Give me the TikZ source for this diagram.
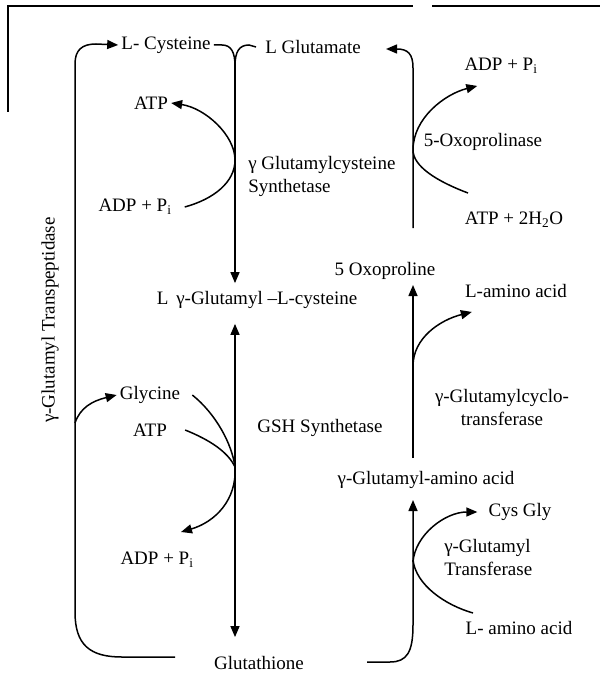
\documentclass[tikz,border=0pt]{standalone}
\usepackage{fontspec}
\setmainfont{Liberation Serif}
\usetikzlibrary{arrows.meta}
\begin{document}
\begin{tikzpicture}[x=1pt,y=-1pt, line width=1.5pt,
  lbl/.style={inner sep=2.5pt, font=\fontsize{19}{23}\selectfont},
  arr/.style={-{Triangle[length=11pt,width=9pt]}},
  darr/.style={{Triangle[length=11pt,width=9pt]}-{Triangle[length=11pt,width=9pt]}},
  frame/.style={line width=1.3pt}]
\useasboundingbox (0,0) rectangle (604,674);
% scan frame
\draw[frame] (8,112) -- (8,6) -- (413,6);
\draw[frame] (432,6) -- (600,6);
% labels
\node[lbl] (cys) at (166,45) {L- Cysteine};
\node[lbl] (glu) at (313,47) {L Glutamate};
\node[lbl] (atp1) at (151,103) {ATP};
\node[lbl] (adp1) at (135,207) {ADP + P\textsubscript{i}};
\node[lbl, align=left, anchor=west] (gcs) at (245,176) {γ Glutamylcysteine\\Synthetase};
\node[lbl] (gglc) at (257,300) {L\, γ-Glutamyl –L-cysteine};
\node[lbl] (adp2) at (501,66) {ADP + P\textsubscript{i}};
\node[lbl] (oxoase) at (483,142) {5-Oxoprolinase};
\node[lbl] (atp2) at (514,220) {ATP + 2H\textsubscript{2}O};
\node[lbl] (oxo) at (385,271) {5 Oxoproline};
\node[lbl] (laa1) at (516,291) {L-amino acid};
\node[lbl] (gly) at (150,395) {Glycine};
\node[lbl] (atp3) at (150,430) {ATP};
\node[lbl] (adp3) at (157,560) {ADP + P\textsubscript{i}};
\node[lbl] (gshs) at (320,428) {GSH Synthetase};
\node[lbl, align=center] (gcyc) at (502,407) {γ-Glutamylcyclo-\\transferase};
\node[lbl] (gaa) at (426,480) {γ-Glutamyl-amino acid};
\node[lbl] (cysgly) at (520,512) {Cys Gly};
\node[lbl, align=left, anchor=west] (gtr) at (441,557) {γ-Glutamyl\\Transferase};
\node[lbl] (laa2) at (519,628) {L- amino acid};
\node[lbl] (gsh) at (259,663) {Glutathione};
\node[lbl, rotate=90] (gtp) at (50,320) {γ-Glutamyl Transpeptidase};
% coordinates
\coordinate (bl) at (175,657);
\coordinate (br) at (367,662);
\coordinate (cj) at (235,66);
\coordinate (rt) at (413,228);
\coordinate (gtip) at (386,49);
\coordinate (oxb) at (413,285);
\coordinate (cyb) at (413,458);
\coordinate (gaab) at (413,500);
% left loop (transpeptidase)
\draw[arr] (bl) -- (122,657) .. controls (90,657) and (75,645) .. (75,612)
  -- (75,64) .. controls (75,50) and (82,44) .. (96,44) -- (cys.west);
\draw[arr] (75,423) .. controls (80,408) and (92,401) .. (gly.west);
% top junction
\draw (cys.east) -- (222,45) .. controls (231,45) and (235,52) .. (cj);
\draw ([xshift=-6pt]glu.west) -- (249,45) .. controls (239,45) and (235,52) .. (cj);
\draw[arr, shorten >=5pt] (cj) -- (cj |- gglc.north);
% gamma glutamylcysteine synthetase side curve
\draw[arr] ([xshift=10pt]adp1.east) .. controls (214,199) and (235,182) .. (235,160)
  .. controls (235,135) and (205,108) .. (atp1.east);
% right top: 5-oxoprolinase
\draw[arr] (rt) -- (413,68) .. controls (413,54) and (408,49) .. (gtip);
\draw[arr] (468,193) .. controls (436,181) and (413,166) .. (413,150)
  .. controls (413,118) and (445,94) .. ([xshift=16pt,yshift=-9pt]adp2.south west);
% gamma-glutamylcyclotransferase
\draw[arr] (cyb) -- (oxb);
\draw[arr] (413,366) .. controls (413,338) and (440,320) .. ([xshift=10pt,yshift=-11pt]laa1.south west);
% GSH synthetase
\draw[darr, shorten <=12pt, shorten >=16pt] (cj |- gglc.south) -- (cj |- gsh.north);
\draw ([xshift=9pt]gly.east) .. controls (216,414) and (232,444) .. (235,467);
\draw ([xshift=15pt]atp3.east) .. controls (210,440) and (228,452) .. (235,467);
\draw[arr] (235,467) .. controls (237,500) and (215,522) .. (181,532);
% gamma-glutamyl transferase
\draw[arr] (br) -- (390,662) .. controls (407,662) and (413,652) .. (413,625) -- (gaab);
\draw[arr] (413,562) .. controls (415,535) and (445,512) .. ([xshift=-8pt]cysgly.west);
\draw (413,560) .. controls (416,585) and (445,605) .. (473,613);
\end{tikzpicture}
\end{document}
